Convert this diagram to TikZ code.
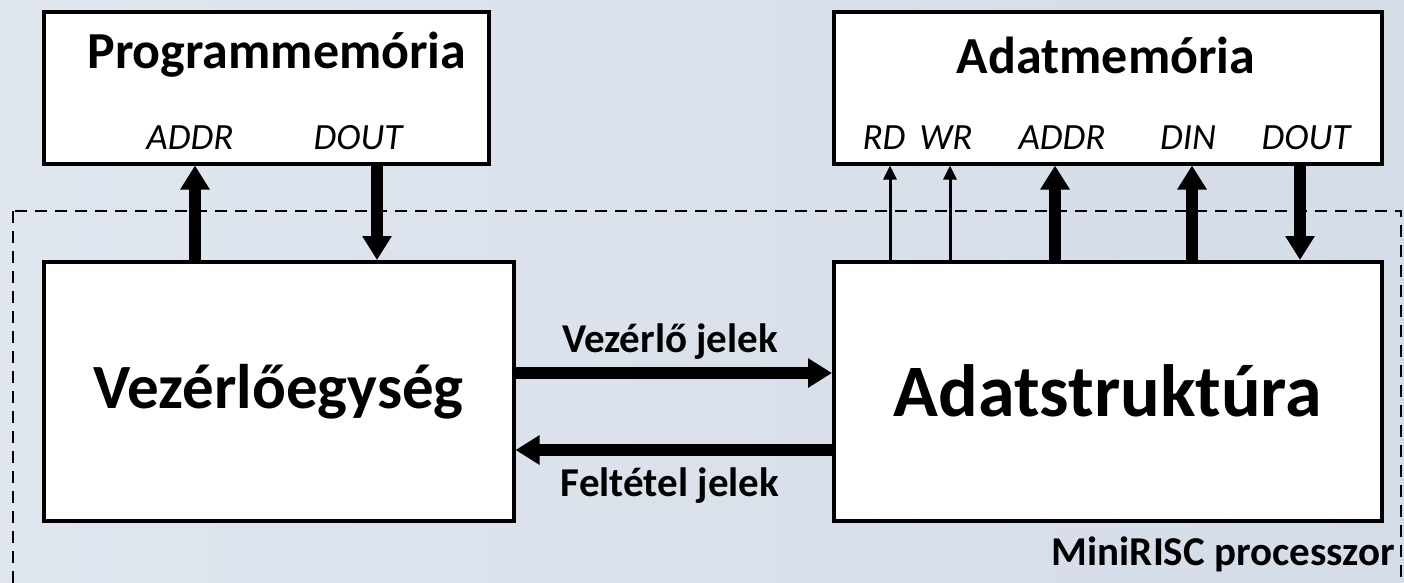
\documentclass[tikz,border=0pt]{standalone}
\usepackage{fontspec}
\setmainfont{Carlito}
\usetikzlibrary{arrows.meta}
\begin{document}
\begin{tikzpicture}[x=1pt,y=-1pt,
  box/.style={draw=black, line width=3.5pt, fill=white, inner sep=0pt, anchor=north west},
  memtitle/.style={font=\fontsize{52}{60}\selectfont\bfseries, inner sep=0pt},
  pinlabel/.style={font=\fontsize{37}{42}\selectfont\itshape, inner sep=0pt},
  siglabel/.style={font=\fontsize{41}{46}\selectfont\bfseries, inner sep=0pt},
  bus/.style={line width=12pt, -{Triangle[length=24pt,width=28pt]}},
  wire/.style={line width=3pt, -{Triangle[length=14pt,width=13pt]}},
  frame/.style={draw=black, line width=2.5pt, dash pattern=on 12pt off 8pt}]
\definecolor{bgA}{RGB}{224,230,238}
\definecolor{bgB}{RGB}{212,220,232}
\useasboundingbox (0,0) rectangle (1404,582);
\clip (0,0) rectangle (1404,582);
\shade[left color=bgA, right color=bgB] (0,0) rectangle (1404,582);
% dashed processor frame
\draw[frame] (13,211) rectangle (1401,620);
% boxes
\node[box, minimum width=445pt, minimum height=152pt] (pm) at (42,10) {};
\node[box, minimum width=548pt, minimum height=152pt] (dm) at (832,10) {};
\node[box, minimum width=470pt, minimum height=259pt, font=\fontsize{63}{70}\selectfont\bfseries] (ve) at (42,260) {Vezérlőegység};
\node[box, minimum width=548pt, minimum height=259pt, font=\fontsize{74}{80}\selectfont\bfseries] (as) at (832,260) {Adatstruktúra};
% titles and pins
\node[memtitle] (pmt) at (277,55) {Programmemória};
\node[memtitle] (dmt) at (1106,55) {Adatmemória};
\node[pinlabel] (pa) at (190,138) {ADDR};
\node[pinlabel] (pd) at (358,138) {DOUT};
\node[pinlabel] (rd) at (884,138) {RD};
\node[pinlabel] (wr) at (946,138) {WR};
\node[pinlabel] (da) at (1062,138) {ADDR};
\node[pinlabel] (di) at (1188,138) {DIN};
\node[pinlabel] (dd) at (1306,138) {DOUT};
% connector x positions
\coordinate (xpa) at (195,0);
\coordinate (xpd) at (377,0);
\coordinate (xrd) at (890,0);
\coordinate (xwr) at (950,0);
\coordinate (xda) at (1055,0);
\coordinate (xdi) at (1192,0);
\coordinate (xdd) at (1300,0);
\coordinate (yv) at (0,373);
\coordinate (yf) at (0,450);
% program memory buses
\draw[bus] (ve.north -| xpa) -- (pm.south -| xpa);
\draw[bus] (pm.south -| xpd) -- (ve.north -| xpd);
% data memory
\draw[wire] (as.north -| xrd) -- (dm.south -| xrd);
\draw[wire] (as.north -| xwr) -- (dm.south -| xwr);
\draw[bus] (as.north -| xda) -- (dm.south -| xda);
\draw[bus] (as.north -| xdi) -- (dm.south -| xdi);
\draw[bus] (dm.south -| xdd) -- (as.north -| xdd);
% control / condition signals
\draw[bus] (ve.east |- yv) -- (as.west |- yv);
\draw[bus] (as.west |- yf) -- (ve.east |- yf);
\node[siglabel] (vj) at (670,342) {Vezérlő jelek};
\node[siglabel] (fj) at (670,486) {Feltétel jelek};
\node[siglabel, anchor=east] (mr) at (1395,554) {MiniRISC processzor};
\end{tikzpicture}
\end{document}
